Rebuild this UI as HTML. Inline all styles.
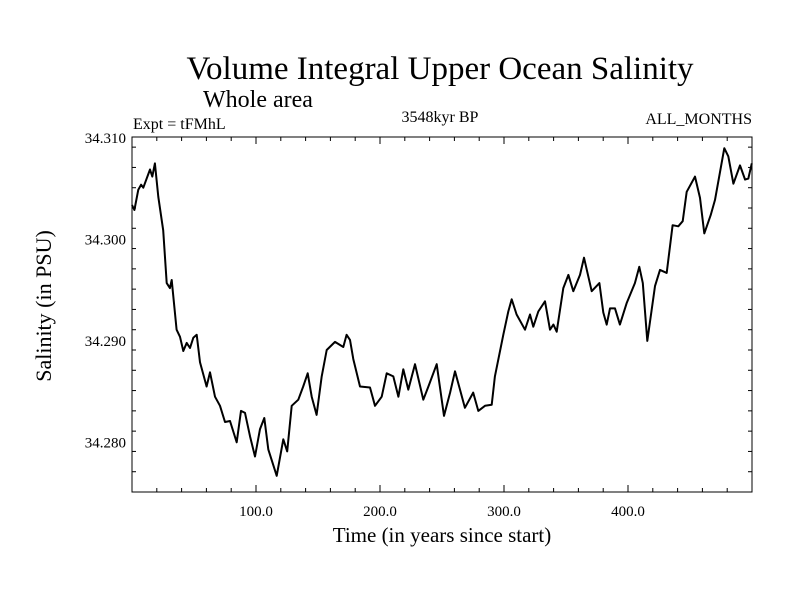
<!DOCTYPE html>
<html><head><meta charset="utf-8"><style>
body{margin:0;background:#fff;}
svg text{font-family:"Liberation Serif",serif;fill:#000;}
</style></head><body>
<svg id="chart" width="800" height="600" viewBox="0 0 800 600">
<text x="440" y="79" font-size="33" text-anchor="middle">Volume Integral Upper Ocean Salinity</text>
<text x="203" y="107" font-size="24">Whole area</text>
<text x="133" y="129" font-size="16">Expt = tFMhL</text>
<text x="440" y="122" font-size="16" text-anchor="middle">3548kyr BP</text>
<text x="752" y="124" font-size="16" text-anchor="end">ALL_MONTHS</text>
<text transform="translate(51,306) rotate(-90)" font-size="22" text-anchor="middle">Salinity (in PSU)</text>
<text x="442" y="542" font-size="21" text-anchor="middle">Time (in years since start)</text>
<g id="axes"></g>
<path id="series" fill="none" stroke="#000" stroke-width="2" stroke-linejoin="round"/>
</svg>
<script>
const years=[0,1.9,5.1,7.3,9.1,14.5,16.4,18.5,21.2,25.2,28.0,30.6,32.0,36.0,38.7,41.4,44.1,46.8,49.4,52.2,54.8,60.2,62.9,66.9,71.0,75.0,79.0,84.4,87.9,91.1,95.2,99.2,103.2,106.7,109.9,116.7,122.0,125.2,128.8,134.1,138.1,141.7,144.9,148.9,153.0,157.0,163.7,170.4,173.1,175.8,178.5,183.9,191.9,196.0,201.4,205.4,210.7,214.8,218.8,222.8,228.2,234.9,239.0,245.7,251.6,256.5,260.5,264.5,268.5,275.2,279.3,284.7,290.1,292.7,299.4,303.5,306.2,310.2,316.9,321.0,323.6,327.7,333.1,337.1,339.8,342.5,347.8,351.9,355.9,361.3,364.5,370.7,376.9,380.1,382.8,385.5,389.5,393.5,398.9,405.6,409.1,411.9,415.6,421.8,425.8,431.2,436.0,440.6,444.1,447.3,454.0,458.1,461.5,466.7,470.2,477.7,480.9,485.0,490.3,494.4,497.0,499.8];
const salinity=[34.3033,34.3028,34.3048,34.3053,34.3050,34.3068,34.3061,34.3074,34.3041,34.3008,34.2956,34.2951,34.2959,34.2910,34.2903,34.2889,34.2897,34.2892,34.2902,34.2905,34.2878,34.2854,34.2868,34.2844,34.2835,34.2819,34.2820,34.2799,34.2830,34.2828,34.2805,34.2785,34.2812,34.2823,34.2792,34.2766,34.2802,34.2790,34.2835,34.2841,34.2854,34.2867,34.2844,34.2826,34.2864,34.2890,34.2898,34.2893,34.2905,34.2900,34.2881,34.2854,34.2853,34.2835,34.2844,34.2867,34.2864,34.2844,34.2871,34.2851,34.2876,34.2841,34.2854,34.2876,34.2825,34.2848,34.2869,34.2851,34.2833,34.2848,34.2830,34.2835,34.2836,34.2864,34.2905,34.2928,34.2940,34.2925,34.2910,34.2925,34.2913,34.2928,34.2938,34.2910,34.2915,34.2908,34.2951,34.2964,34.2948,34.2964,34.2981,34.2948,34.2956,34.2927,34.2915,34.2931,34.2931,34.2915,34.2936,34.2956,34.2972,34.2956,34.2899,34.2953,34.2969,34.2966,34.3013,34.3012,34.3017,34.3046,34.3061,34.3040,34.3005,34.3023,34.3038,34.3089,34.3081,34.3054,34.3072,34.3058,34.3059,34.3074];
const xTickLabels=["100.0","200.0","300.0","400.0"];
const yTickLabels=["34.280","34.290","34.300","34.310"];
const X0=132,X1=752,Y0=137,Y1=492,XMIN=0,XMAX=500,YMIN=34.275,YMAX=34.310;
function sx(v){return X0+(v-XMIN)/(XMAX-XMIN)*(X1-X0);}
function sy(v){return Y1-(v-YMIN)/(YMAX-YMIN)*(Y1-Y0);}
const NS="http://www.w3.org/2000/svg";
const g=document.getElementById('axes');
function mk(t,a){const e=document.createElementNS(NS,t);for(const k in a)e.setAttribute(k,a[k]);g.appendChild(e);return e;}
const fr=mk('rect',{x:X0,y:Y0,width:X1-X0,height:Y1-Y0,fill:'none',stroke:'#000','stroke-width':1});


for(let v=20;v<XMAX;v+=20){
  const major=v%100===0,len=major?7:4,x=sx(v);
  const t1=mk('line',{x1:x,x2:x,y1:Y1,y2:Y1-len,stroke:'#000'});
  
  
  const t2=mk('line',{x1:x,x2:x,y1:Y0,y2:Y0+len,stroke:'#000'});
  
  
}
xTickLabels.forEach(s=>{
  const t=mk('text',{x:sx(parseFloat(s)),y:516,'font-size':15,'text-anchor':'middle'});
  t.textContent=s;
  
  
});
for(let i=0;i<=17;i++){
  const v=YMIN+i*0.002;if(v>YMAX+1e-9)break;
  const major=Math.abs((v*1000)%10)<0.01||Math.abs((v*1000)%10-10)<0.01,len=major?7:4,y=sy(v);
  const t1=mk('line',{x1:X0,x2:X0+len,y1:y,y2:y,stroke:'#000'});
  
  
  const t2=mk('line',{x1:X1,x2:X1-len,y1:y,y2:y,stroke:'#000'});
  
  
}
yTickLabels.forEach(s=>{
  const t=mk('text',{x:126,y:sy(parseFloat(s))+6,'font-size':15,'text-anchor':'end'});
  t.textContent=s;
  
  
});
document.getElementById('series').setAttribute('d',years.map((v,i)=>(i?'L':'M')+sx(v).toFixed(1)+','+sy(salinity[i]).toFixed(1)).join(''));
</script>
</body></html>
